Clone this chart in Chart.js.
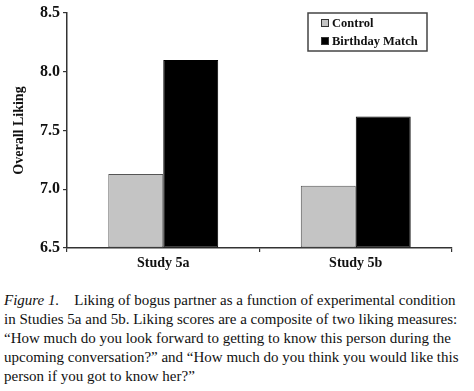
<!DOCTYPE html>
<html>
<head>
<meta charset="utf-8">
<script src="https://cdn.jsdelivr.net/npm/chart.js@4"></script>
<style>
  html, body { margin: 0; padding: 0; background: #fff; }
  #wrap { position: relative; width: 474px; height: 391px; overflow: hidden; }
  #cv { position: absolute; left: 0; top: 0; }
  #caption { position: absolute; left: 4px; top: 291px; width: 461px;
    font-family: "Liberation Serif", "Times New Roman", serif; font-size: 15px; color: #111; }
  #caption .ln { white-space: nowrap; height: 19px; line-height: 19px; }
</style>
</head>
<body>
<div id="wrap">
  <canvas id="cv" width="474" height="285"></canvas>
  <div id="caption">
    <div class="ln"><i>Figure 1.</i>&nbsp;&nbsp;&nbsp; Liking of bogus partner as a function of experimental condition</div>
    <div class="ln">in Studies 5a and 5b. Liking scores are a composite of two liking measures:</div>
    <div class="ln">“How much do you look forward to getting to know this person during the</div>
    <div class="ln">upcoming conversation?” and “How much do you think you would like this</div>
    <div class="ln" data-last="1">person if you got to know her?”</div>
  </div>
</div>
<script>
const categories = ['Study 5a', 'Study 5b'];
const seriesNames = ['Control', 'Birthday Match'];
const controlValues = [7.13, 7.03];
const birthdayValues = [8.10, 7.62];
const yMin = 6.5, yMax = 8.5, yStep = 0.5;
const yTitle = 'Overall Liking';

const serif = '"Liberation Serif", "Times New Roman", serif';
const fillColors = ['#c4c4c4', '#000000'];
const borderColors = ['#555555', '#000000'];

const legendBox = {
  id: 'legendBox',
  afterDraw(chart) {
    const ctx = chart.ctx;
    ctx.save();
    ctx.strokeStyle = '#444';
    ctx.lineWidth = 1.5;
    ctx.strokeRect(308, 13, 119, 38);
    ctx.font = 'bold 12.5px ' + serif;
    ctx.textBaseline = 'middle';
    chart.data.datasets.forEach((ds, i) => {
      const cy = 23 + i * 18;
      ctx.fillStyle = ds.backgroundColor;
      ctx.fillRect(321, cy - 4, 8, 8);
      ctx.strokeStyle = '#333';
      ctx.lineWidth = 1;
      ctx.strokeRect(321.5, cy - 3.5, 7, 7);
      ctx.fillStyle = '#111';
      ctx.fillText(ds.label, 332, cy + 0.5);
    });
    ctx.restore();
  }
};

new Chart(document.getElementById('cv'), {
  type: 'bar',
  data: {
    labels: categories,
    datasets: [
      { label: seriesNames[0], data: controlValues, backgroundColor: fillColors[0],
        borderColor: borderColors[0], borderWidth: 1, borderSkipped: false, base: yMin },
      { label: seriesNames[1], data: birthdayValues, backgroundColor: fillColors[1],
        borderColor: borderColors[1], borderWidth: 1, borderSkipped: false, base: yMin }
    ]
  },
  options: {
    responsive: false,
    animation: false,
    devicePixelRatio: 1,
    layout: { padding: { left: 0, right: 22, top: 13, bottom: 0 } },
    datasets: { bar: { categoryPercentage: 0.571, barPercentage: 1.0 } },
    plugins: { legend: { display: false }, tooltip: { enabled: false } },
    scales: {
      x: {
        offset: true,
        grid: { display: true, offset: true, drawOnChartArea: false, drawTicks: true,
                tickLength: 4, color: '#333', lineWidth: 1.2 },
        border: { display: true, color: '#333', width: 1.5 },
        ticks: { color: '#111', font: { family: serif, size: 14, weight: 'bold' }, padding: 3 },
        afterFit(s) { s.height = 37; }
      },
      y: {
        min: yMin, max: yMax,
        grid: { display: true, drawOnChartArea: false, drawTicks: true,
                tickLength: 4, color: '#333', lineWidth: 1.2 },
        border: { display: true, color: '#333', width: 1.5 },
        ticks: { stepSize: yStep, color: '#111', padding: 3,
                 font: { family: serif, size: 16, weight: 'bold' },
                 callback: v => Number(v).toFixed(1) },
        title: { display: true, text: yTitle, color: '#111',
                 font: { family: serif, size: 14, weight: 'bold' },
                 padding: { top: 11, bottom: 0 } },
        afterFit(s) { s.width = 67; }
      }
    }
  },
  plugins: [legendBox]
});

// justify caption lines
document.querySelectorAll('#caption .ln').forEach(el => {
  if (el.dataset.last) return;
  const target = 461;
  const w = el.scrollWidth;
  const spaces = (el.textContent.match(/ /g) || []).length;
  if (spaces > 0) el.style.wordSpacing = ((target - w) / spaces) + 'px';
});
</script>
</body>
</html>
